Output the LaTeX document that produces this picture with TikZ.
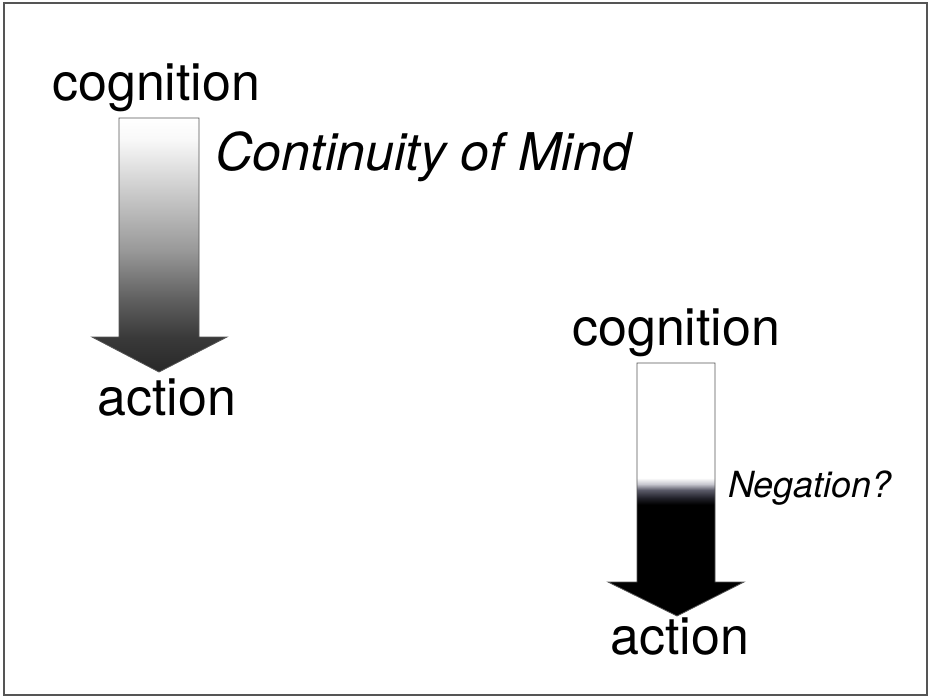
\documentclass[tikz,border=0pt]{standalone}
\usepackage{fontspec}
\setmainfont{TeX Gyre Heros}
\definecolor{lgA}{HTML}{282828}
\definecolor{lgB}{HTML}{3A3A3A}
\definecolor{lgC}{HTML}{5F5F5F}
\definecolor{lgD}{HTML}{999999}
\definecolor{lgE}{HTML}{C4C4C4}
\definecolor{lgF}{HTML}{F8F8F8}
\definecolor{rgA}{HTML}{202028}
\definecolor{rgB}{HTML}{5A5A68}
\definecolor{rgC}{HTML}{C8C8D0}
\definecolor{frame}{HTML}{555555}
\definecolor{outl}{HTML}{555555}
\pgfdeclareverticalshading{leftgrad}{100bp}{%
  color(0bp)=(lgA); color(25bp)=(lgA); color(31.9bp)=(lgB); color(39.2bp)=(lgC);
  color(49bp)=(lgD); color(58.9bp)=(lgE); color(70.7bp)=(lgF); color(75bp)=(white); color(100bp)=(white)}
\pgfdeclareverticalshading{rightgrad}{100bp}{%
  color(0bp)=(black); color(25bp)=(black); color(47bp)=(black); color(48.3bp)=(rgA);
  color(49.9bp)=(rgB); color(51.1bp)=(rgC); color(52.3bp)=(white); color(75bp)=(white); color(100bp)=(white)}
\begin{document}
\begin{tikzpicture}[x=1pt,y=-1pt,
  big/.style={inner sep=0pt,anchor=base west,font=\fontsize{52}{60}\selectfont},
  mid/.style={inner sep=0pt,anchor=base west,font=\fontsize{36}{42}\selectfont\itshape},
  arrowshape/.style={draw=outl,line width=0.8pt,line join=miter}]
\useasboundingbox (0,0) rectangle (930,697);
\draw[frame,line width=1.5pt] (4,3) rectangle (927,695);
% left arrow
\shade[shading=leftgrad,arrowshape]
  (119,118) -- (199,118) -- (199,337) -- (227,337) -- (159,372) -- (92,337) -- (119,337) -- cycle;
% right arrow
\shade[shading=rightgrad,arrowshape]
  (637,363) -- (715,363) -- (715,582) -- (744,582) -- (677,616) -- (608,582) -- (637,582) -- cycle;
\node[big] (cog1) at (52,100) {cognition};
\node[big,font=\fontsize{52}{60}\selectfont\itshape] (cont) at (215,170) {Continuity of Mind};
\node[big] (act1) at (97,415) {action};
\node[big] (cog2) at (572,345) {cognition};
\node[mid] (neg) at (728,497) {Negation?};
\node[big] (act2) at (610,654) {action};
\end{tikzpicture}
\end{document}
